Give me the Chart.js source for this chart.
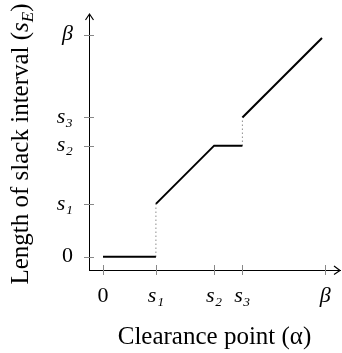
<!DOCTYPE html>
<html>
<head>
<meta charset="utf-8">
<script src="https://cdn.jsdelivr.net/npm/chart.js@4.4.1/dist/chart.umd.min.js"></script>
<style>
  html, body { margin: 0; padding: 0; background: #fff; }
  #wrap { width: 342px; height: 353px; }
</style>
</head>
<body>
<div id="wrap"><canvas id="slack"></canvas></div>
<script>
// tick positions (beta = 10) and their labels
const tickValues = [0, 2.38, 5.0, 6.27, 10];
const tickLabels = ['0', 's₁', 's₂', 's₃', 'β'];

// solid pieces of s_E(alpha)
const flatX = [0, 2.38];
const flatY = [0, 0];
const rampX = [2.38, 5.0, 6.27];
const rampY = [2.38, 5.0, 5.0];
const topX = [6.27, 9.85];
const topY = [6.27, 9.85];

// dotted jumps
const jump1X = [2.38, 2.38];
const jump1Y = [0, 2.38];
const jump2X = [6.27, 6.27];
const jump2Y = [5.0, 6.27];

const pts = (xs, ys) => xs.map((x, i) => ({ x: x, y: ys[i] }))

const solid = (xs, ys) => ({
  data: pts(xs, ys),
  showLine: true,
  borderColor: '#000',
  borderWidth: 2,
  pointRadius: 0,
  borderCapStyle: 'butt'
})
const dotted = (xs, ys) => ({
  data: pts(xs, ys),
  showLine: true,
  borderColor: '#555',
  borderWidth: 1,
  borderDash: [1, 3],
  pointRadius: 0
})

const serif = 'Liberation Serif'
const tickFont = (ctx) => ({
  family: serif,
  size: 22,
  style: ctx.tick && ctx.tick.value === 0 ? 'normal' : 'italic'
})

// tick crosses, arrow heads, y title with subscript
const axisDecor = {
  id: 'axisDecor',
  afterDraw(chart) {
    const ctx = chart.ctx
    const a = chart.chartArea
    const xs = chart.scales.x, ys = chart.scales.y
    ctx.save()
    ctx.strokeStyle = '#888'
    ctx.lineWidth = 1
    xs.ticks.forEach(t => {
      const px = Math.round(xs.getPixelForValue(t.value)) + 0.5
      ctx.beginPath(); ctx.moveTo(px, a.bottom - 5); ctx.lineTo(px, a.bottom + 5); ctx.stroke()
    })
    ys.ticks.forEach(t => {
      const py = Math.round(ys.getPixelForValue(t.value)) + 0.5
      ctx.beginPath(); ctx.moveTo(a.left - 5, py); ctx.lineTo(a.left + 5, py); ctx.stroke()
    })
    ctx.strokeStyle = '#000'
    ctx.lineWidth = 1.2
    ctx.beginPath()
    ctx.moveTo(a.left - 3.5, a.top + 6); ctx.lineTo(a.left + 0.5, a.top); ctx.lineTo(a.left + 4.5, a.top + 6)
    ctx.stroke()
    ctx.beginPath()
    ctx.moveTo(a.right - 6, a.bottom - 4); ctx.lineTo(a.right, a.bottom + 0.5); ctx.lineTo(a.right - 6, a.bottom + 4.5)
    ctx.stroke()

    // y axis title
    const parts = [
      { t: 'Length of slack interval (', f: '25px "' + serif + '"', dy: 0 },
      { t: 's', f: 'italic 25px "' + serif + '"', dy: 0 },
      { t: 'E', f: 'italic 17px "' + serif + '"', dy: 5 },
      { t: ')', f: '25px "' + serif + '"', dy: 0 }
    ]
    let total = 0
    parts.forEach(p => { ctx.font = p.f; p.w = ctx.measureText(p.t).width; total += p.w })
    ctx.translate(28, (a.top + a.bottom) / 2 + 2)
    ctx.rotate(-Math.PI / 2)
    ctx.fillStyle = '#000'
    ctx.textBaseline = 'alphabetic'
    let x = -total / 2
    parts.forEach(p => { ctx.font = p.f; ctx.fillText(p.t, x, p.dy); x += p.w })
    ctx.restore()
  }
}

new Chart(document.getElementById('slack'), {
  type: 'scatter',
  data: {
    datasets: [
      solid(flatX, flatY),
      dotted(jump1X, jump1Y),
      solid(rampX, rampY),
      dotted(jump2X, jump2Y),
      solid(topX, topY)
    ]
  },
  options: {
    responsive: true,
    maintainAspectRatio: false,
    animation: false,
    layout: { padding: { top: 14, right: 2, left: 0, bottom: 0 } },
    plugins: { legend: { display: false }, tooltip: { enabled: false } },
    scales: {
      x: {
        type: 'linear',
        min: -0.63,
        max: 10.66,
        afterBuildTicks: (s) => { s.ticks = tickValues.map(v => ({ value: v })) },
        afterFit: (s) => { s.height = 83; s.paddingLeft = 0; s.paddingRight = 0 },
        ticks: {
          autoSkip: false,
          maxRotation: 0,
          padding: 13,
          color: '#000',
          font: tickFont,
          callback: (v) => tickLabels[tickValues.indexOf(v)]
        },
        grid: { display: false, drawTicks: false },
        border: { display: true, color: '#000', width: 1 },
        title: {
          display: true,
          text: 'Clearance point (α)',
          color: '#000',
          font: { family: serif, size: 25 },
          padding: { top: 0, bottom: 1 }
        }
      },
      y: {
        type: 'linear',
        min: -0.6,
        max: 10.93,
        afterBuildTicks: (s) => { s.ticks = tickValues.map(v => ({ value: v })) },
        afterFit: (s) => { s.width = 89; s.paddingTop = 0; s.paddingBottom = 0 },
        ticks: {
          autoSkip: false,
          padding: 16,
          color: '#000',
          font: tickFont,
          callback: (v) => tickLabels[tickValues.indexOf(v)]
        },
        grid: { display: false, drawTicks: false },
        border: { display: true, color: '#000', width: 1 }
      }
    }
  },
  plugins: [axisDecor]
})
</script>
</body>
</html>
